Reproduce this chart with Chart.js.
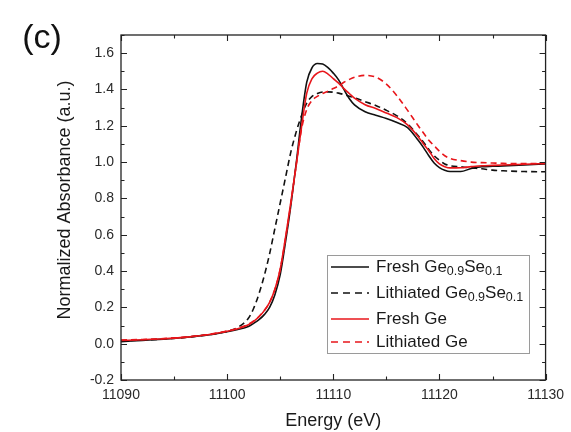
<!DOCTYPE html>
<html>
<head>
<meta charset="utf-8">
<script src="https://cdn.jsdelivr.net/npm/chart.js@4.4.1/dist/chart.umd.min.js"></script>
<style>
  body { margin: 0; background: #fff; }
  canvas { display: block; }
</style>
</head>
<body>
<canvas id="grafico" width="571" height="432"></canvas>
<script>
// energy grid (eV) and normalized absorbance
const energy = [11090, 11092, 11094, 11096, 11098, 11099, 11100, 11101, 11102, 11102.5,
  11103, 11103.5, 11104, 11104.5, 11105, 11105.5, 11106, 11106.5, 11107, 11107.5,
  11108, 11108.5, 11109, 11109.5, 11110, 11110.5, 11111, 11111.5, 11112, 11113,
  11114, 11115, 11116, 11117, 11118, 11118.5, 11119, 11119.5, 11120, 11120.5,
  11121, 11122, 11123, 11124, 11125, 11126, 11128, 11130];

const freshGeSe = [0.011, 0.018, 0.025, 0.034, 0.047, 0.055, 0.066, 0.078, 0.095, 0.112,
  0.132, 0.16, 0.2, 0.27, 0.38, 0.56, 0.76, 0.99, 1.24, 1.44,
  1.52, 1.543, 1.54, 1.52, 1.49, 1.453, 1.40, 1.35, 1.315, 1.277,
  1.258, 1.24, 1.218, 1.19, 1.12, 1.08, 1.035, 0.995, 0.97, 0.955,
  0.948, 0.948, 0.965, 0.974, 0.977, 0.979, 0.984, 0.99];

const lithGeSe = [0.015, 0.02, 0.026, 0.034, 0.047, 0.056, 0.068, 0.09, 0.14, 0.195,
  0.275, 0.375, 0.495, 0.635, 0.775, 0.915, 1.055, 1.165, 1.255, 1.325,
  1.362, 1.378, 1.386, 1.387, 1.385, 1.38, 1.372, 1.363, 1.354, 1.333,
  1.312, 1.285, 1.255, 1.21, 1.145, 1.11, 1.07, 1.035, 1.01, 0.99,
  0.98, 0.974, 0.968, 0.963, 0.956, 0.952, 0.948, 0.947];

const freshGe = [0.018, 0.022, 0.027, 0.035, 0.048, 0.057, 0.068, 0.082, 0.104, 0.123,
  0.148, 0.182, 0.228, 0.30, 0.41, 0.585, 0.78, 0.98, 1.19, 1.38,
  1.46, 1.49, 1.50, 1.485, 1.46, 1.435, 1.405, 1.378, 1.352, 1.316,
  1.295, 1.27, 1.245, 1.205, 1.14, 1.10, 1.063, 1.02, 0.99, 0.975,
  0.968, 0.969, 0.975, 0.98, 0.982, 0.984, 0.988, 0.993];

const lithGe = [0.02, 0.023, 0.028, 0.036, 0.049, 0.058, 0.07, 0.085, 0.107, 0.125,
  0.15, 0.183, 0.228, 0.30, 0.41, 0.58, 0.77, 0.98, 1.18, 1.29,
  1.34, 1.362, 1.378, 1.39, 1.405, 1.42, 1.44, 1.455, 1.467, 1.478,
  1.468, 1.43, 1.365, 1.285, 1.2, 1.16, 1.12, 1.09, 1.06, 1.035,
  1.02, 1.008, 1.0, 0.997, 0.995, 0.993, 0.992, 0.993];

const xTicks = [11090, 11100, 11110, 11120, 11130];
const yTicks = [-0.2, 0.0, 0.2, 0.4, 0.6, 0.8, 1.0, 1.2, 1.4, 1.6];

// legend text, "_" marks a subscript piece
const seriesNames = [
  ['Fresh Ge', '_0.9', 'Se', '_0.1'],
  ['Lithiated Ge', '_0.9', 'Se', '_0.1'],
  ['Fresh Ge'],
  ['Lithiated Ge']
];

document.addEventListener("DOMContentLoaded", function () {
  const FONT = '"Liberation Sans", Arial, sans-serif';
  const RED = '#e8161b';
  const BLACK = '#111';

  function pontos(ys) {
    return energy.map((e, i) => ({ x: e, y: ys[i] }));
  }

  const estilos = [
    { cor: BLACK, dash: [] },
    { cor: BLACK, dash: [6, 4] },
    { cor: RED, dash: [] },
    { cor: RED, dash: [6, 4] }
  ];
  const series = [freshGeSe, lithGeSe, freshGe, lithGe];

  // frame, inward ticks on all four sides, y title, (c) tag, legend with subscripts
  const molduraPlugin = {
    id: 'moldura',
    afterDraw(chart) {
      const { ctx, chartArea: a, scales: { x, y } } = chart;
      ctx.save();
      ctx.strokeStyle = '#222';
      ctx.lineWidth = 1.3;
      ctx.strokeRect(a.left, a.top, a.right - a.left, a.bottom - a.top);

      ctx.lineWidth = 1.1;
      ctx.beginPath();
      for (let v = 11090; v <= 11130; v += 5) {
        const px = Math.round(x.getPixelForValue(v)) + 0.5;
        const len = (v % 10 === 0) ? 6 : 3.5;
        ctx.moveTo(px, a.bottom); ctx.lineTo(px, a.bottom - len);
        ctx.moveTo(px, a.top); ctx.lineTo(px, a.top + len);
      }
      for (let k = -2; k <= 17; k++) {
        const py = Math.round(y.getPixelForValue(k / 10)) + 0.5;
        const len = (k % 2 === 0) ? 6 : 3.5;
        ctx.moveTo(a.left, py); ctx.lineTo(a.left + len, py);
        ctx.moveTo(a.right, py); ctx.lineTo(a.right - len, py);
      }
      ctx.stroke();

      // y axis title, sits a little above the plot centre in the original
      ctx.save();
      ctx.translate(65, 200);
      ctx.rotate(-Math.PI / 2);
      ctx.fillStyle = '#1a1a1a';
      ctx.font = '18px ' + FONT;
      ctx.textAlign = 'center';
      ctx.textBaseline = 'middle';
      ctx.fillText('Normalized Absorbance (a.u.)', 0, 0);
      ctx.restore();

      // panel tag
      ctx.fillStyle = '#111';
      ctx.font = '34px ' + FONT;
      ctx.textAlign = 'center';
      ctx.textBaseline = 'middle';
      ctx.fillText('(c)', 42, 39);

      // legend box
      const box = { left: 327, top: 255, right: 529, bottom: 353 };
      ctx.strokeStyle = '#9a9a9a';
      ctx.lineWidth = 1;
      ctx.strokeRect(box.left + 0.5, box.top + 0.5, box.right - box.left, box.bottom - box.top);
      const linhas = [267, 293, 319, 342];
      ctx.textAlign = 'left';
      seriesNames.forEach((partes, i) => {
        const yy = linhas[i];
        ctx.strokeStyle = estilos[i].cor;
        ctx.lineWidth = 1.6;
        ctx.setLineDash(estilos[i].dash.length ? [7, 5] : []);
        ctx.beginPath();
        ctx.moveTo(331, yy); ctx.lineTo(369, yy);
        ctx.stroke();
        ctx.setLineDash([]);
        let xx = 376;
        ctx.fillStyle = '#1a1a1a';
        partes.forEach(p => {
          if (p.startsWith('_')) {
            ctx.font = '12.5px ' + FONT;
            ctx.fillText(p.slice(1), xx, yy + 5);
            xx += ctx.measureText(p.slice(1)).width;
          } else {
            ctx.font = '17px ' + FONT;
            ctx.fillText(p, xx, yy);
            xx += ctx.measureText(p).width;
          }
        });
      });
      ctx.restore();
    }
  };

  const ctx = document.getElementById('grafico').getContext('2d');

  new Chart(ctx, {
    type: 'line',
    data: {
      datasets: series.map((ys, i) => ({
        label: seriesNames[i].map(p => p.replace('_', '')).join(''),
        data: pontos(ys),
        borderColor: estilos[i].cor,
        borderDash: estilos[i].dash,
        borderWidth: 1.6,
        pointRadius: 0,
        fill: false,
        cubicInterpolationMode: 'monotone',
        order: 4 - i
      }))
    },
    options: {
      responsive: false,
      animation: false,
      events: [],
      layout: { padding: { top: 35, right: 23, left: 0, bottom: 0 } },
      plugins: {
        legend: { display: false },
        tooltip: { enabled: false }
      },
      scales: {
        x: {
          type: 'linear',
          min: 11090,
          max: 11130,
          grid: { display: false, drawTicks: false },
          border: { display: false },
          afterBuildTicks: s => { s.ticks = xTicks.map(v => ({ value: v })); },
          afterFit: s => { s.height = 52; },
          ticks: {
            padding: 7,
            maxRotation: 0,
            color: '#2a2a2a',
            font: { family: FONT, size: 14 },
            callback: v => String(v)
          },
          title: {
            display: true,
            text: 'Energy (eV)',
            color: '#1a1a1a',
            font: { family: FONT, size: 18 },
            padding: { top: 0, bottom: 0 }
          }
        },
        y: {
          min: -0.2,
          max: 1.7,
          grid: { display: false, drawTicks: false },
          border: { display: false },
          afterBuildTicks: s => { s.ticks = yTicks.map(v => ({ value: v })); },
          afterFit: s => { s.width = 121; },
          ticks: {
            padding: 7,
            color: '#2a2a2a',
            font: { family: FONT, size: 14 },
            callback: v => Number(v).toFixed(1)
          }
        }
      }
    },
    plugins: [molduraPlugin]
  });
});
</script>
</body>
</html>
